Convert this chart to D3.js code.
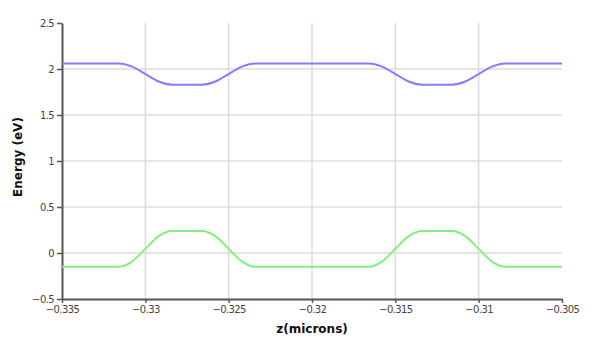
<!DOCTYPE html>
<html lang="en">
<head>
<meta charset="UTF-8">
<title>Energy bands</title>
<script src="https://d3js.org/d3.v7.min.js"></script>
<style>
  body { margin: 0; background: #fff; }
  .tick text { font-family: "DejaVu Sans", sans-serif; font-size: 10px; fill: #444; letter-spacing: -0.6px; }
  .title { font-family: "DejaVu Sans", sans-serif; font-weight: bold; font-size: 12px; fill: #111; }
</style>
</head>
<body>
<svg id="chart"></svg>
<script>
  // band edge points (z in microns, energy in eV)
  const zPts = [-0.335,
                -0.3316, -0.3308, -0.33, -0.3292, -0.3284,
                -0.3266, -0.3258, -0.325, -0.3242, -0.3234,
                -0.3166, -0.3158, -0.315, -0.3142, -0.3134,
                -0.3116, -0.3108, -0.31, -0.3092, -0.3084,
                -0.305];
  const conduction = [2.06,
                      2.06, 2.026, 1.945, 1.864, 1.83,
                      1.83, 1.864, 1.945, 2.026, 2.06,
                      2.06, 2.026, 1.945, 1.864, 1.83,
                      1.83, 1.864, 1.945, 2.026, 2.06,
                      2.06];
  const valence = [-0.15,
                   -0.15, -0.093, 0.045, 0.183, 0.24,
                   0.24, 0.183, 0.045, -0.093, -0.15,
                   -0.15, -0.093, 0.045, 0.183, 0.24,
                   0.24, 0.183, 0.045, -0.093, -0.15,
                   -0.15];
  const xTicks = [-0.335, -0.33, -0.325, -0.32, -0.315, -0.31, -0.305];
  const yTicks = [-0.5, 0, 0.5, 1, 1.5, 2, 2.5];

  const width = 595, height = 350;
  const margin = { top: 23, right: 33, bottom: 51, left: 62 };

  const svg = d3.select("#chart").attr("width", width).attr("height", height);

  const x = d3.scaleLinear().domain([-0.335, -0.305]).range([margin.left, width - margin.right]);
  const y = d3.scaleLinear().domain([-0.5, 2.5]).range([height - margin.bottom, margin.top]);

  // grid
  svg.append("g")
    .selectAll("line")
    .data(xTicks.slice(1, -1))
    .join("line")
    .attr("x1", d => x(d)).attr("x2", d => x(d))
    .attr("y1", y(2.5)).attr("y2", y(-0.5))
    .attr("stroke", "#dcdcdc").attr("stroke-width", 1.5);

  svg.append("g")
    .selectAll("line")
    .data(yTicks.slice(1, -1))
    .join("line")
    .attr("x1", x(-0.335)).attr("x2", x(-0.305))
    .attr("y1", d => y(d)).attr("y2", d => y(d))
    .attr("stroke", "#dcdcdc").attr("stroke-width", 1.5);

  // axes
  const xAxis = svg.append("g")
    .attr("transform", `translate(0,${y(-0.5)})`)
    .call(d3.axisBottom(x).tickValues(xTicks).tickFormat(d3.format("")).tickSize(4).tickSizeOuter(0).tickPadding(3));
  const yAxis = svg.append("g")
    .attr("transform", `translate(${x(-0.335)},0)`)
    .call(d3.axisLeft(y).tickValues(yTicks).tickFormat(d3.format("")).tickSize(5).tickSizeOuter(0).tickPadding(3));

  [xAxis, yAxis].forEach(a => {
    a.select(".domain").attr("stroke", "#555").attr("stroke-width", 2);
    a.selectAll(".tick line").attr("stroke", "#555").attr("stroke-width", 1.5);
  });

  // curves
  const line = vals => d3.line()
    .x((d, i) => x(zPts[i]))
    .y(d => y(d))
    .curve(d3.curveMonotoneX)(vals);

  svg.append("path").attr("d", line(conduction))
    .attr("fill", "none").attr("stroke", "#8080ff").attr("stroke-width", 2);
  svg.append("path").attr("d", line(valence))
    .attr("fill", "none").attr("stroke", "#80f080").attr("stroke-width", 2);

  // titles
  svg.append("text").attr("class", "title")
    .attr("x", 312).attr("y", 333)
    .attr("text-anchor", "middle")
    .text("z(microns)");
  svg.append("text").attr("class", "title")
    .attr("transform", `translate(22,${(y(2.5) + y(-0.5)) / 2 - 4}) rotate(-90)`)
    .attr("text-anchor", "middle")
    .text("Energy (eV)");
</script>
</body>
</html>
